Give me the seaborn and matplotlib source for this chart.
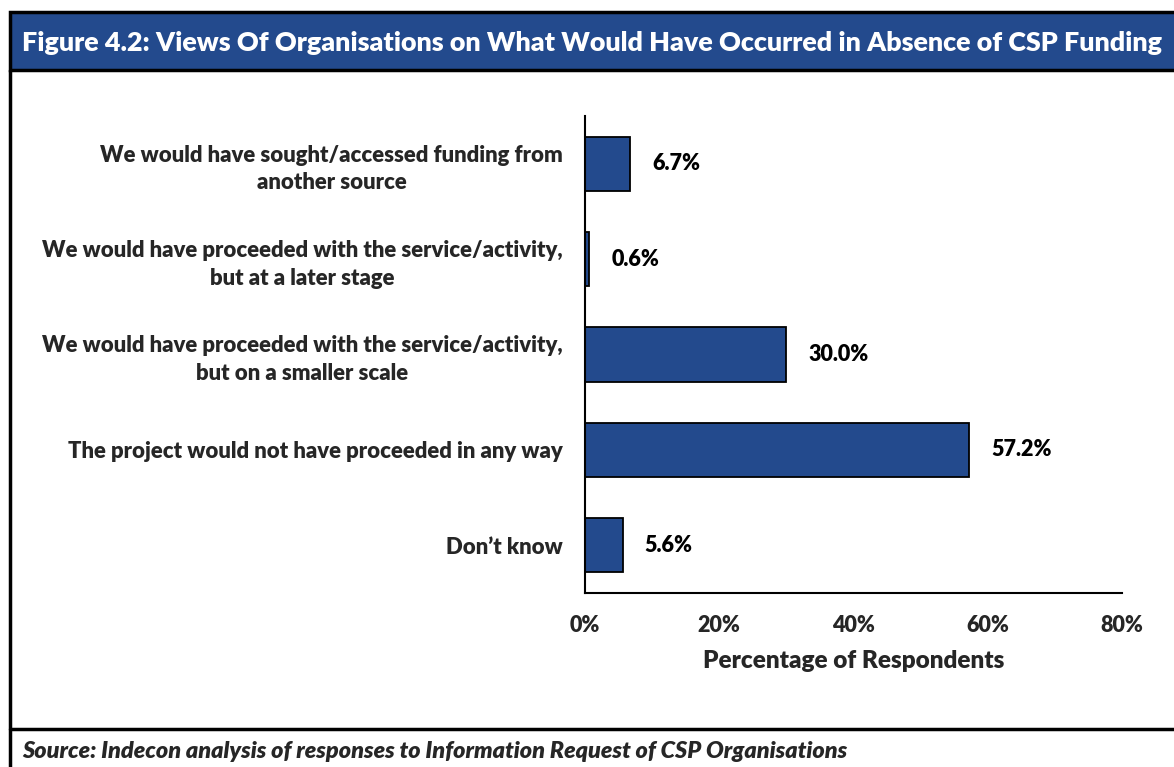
import matplotlib
matplotlib.use("Agg")
import matplotlib.pyplot as plt
from matplotlib.patches import Rectangle
from matplotlib.lines import Line2D
import seaborn as sns
import pandas as pd
import numpy as np

# Survey responses
categories = [
    "We would have sought/accessed funding from\nanother source",
    "We would have proceeded with the service/activity,\nbut at a later stage",
    "We would have proceeded with the service/activity,\nbut on a smaller scale",
    "The project would not have proceeded in any way",
    "Don\u2019t know",
]
percentages = [6.7, 0.6, 30.0, 57.2, 5.6]
x_ticks = [0, 20, 40, 60, 80]
x_tick_labels = ["0%", "20%", "40%", "60%", "80%"]

title = "Figure 4.2: Views Of Organisations on What Would Have Occurred in Absence of CSP Funding"
source = "Source: Indecon analysis of responses to Information Request of CSP Organisations"
x_label = "Percentage of Respondents"

BLUE = "#234A8D"
FONT = ["Lato", "DejaVu Sans"]
WEIGHT = "heavy"

sns.set_theme(style="white")
plt.rcParams["font.family"] = FONT

W, H = 1174, 767
fig = plt.figure(figsize=(W / 100, H / 100), dpi=100)
fig.patch.set_facecolor("white")

def fx(px):
    return px / W

def fy(py):
    return 1 - py / H

ax = fig.add_axes([fx(585), fy(593), fx(1122) - fx(585), fy(116) - fy(593)])

df = pd.DataFrame({"category": categories, "pct": percentages})
sns.barplot(data=df, y="category", x="pct", orient="h", color=BLUE,
            saturation=1, width=0.57, edgecolor="black", linewidth=1.3, ax=ax)

ax.set_xlim(0, 80)
n = len(categories)
ax.set_ylim(n - 0.5, -0.5)

# x axis
ax.set_xticks(x_ticks)
ax.set_xticklabels(x_tick_labels, fontsize=15.5, fontweight=WEIGHT)
ax.tick_params(axis="x", direction="out", length=7, width=1.5, color="black", pad=9)
ax.set_xlabel(x_label, fontsize=17.5, fontweight=WEIGHT, labelpad=10)

# y axis: ticks on category boundaries, labels at centres
ax.set_yticks(np.arange(-0.5, n, 1.0))
ax.set_yticklabels([""] * (n + 1))
ax.tick_params(axis="y", which="major", direction="out", length=7, width=1.5, color="black")
ax.set_yticks(np.arange(n), minor=True)
ax.set_yticklabels(categories, minor=True, fontsize=15.9, fontweight=WEIGHT,
                   multialignment="center", linespacing=1.4)
ax.tick_params(axis="y", which="minor", length=0, pad=16)
ax.set_ylabel("")

for side in ["top", "right"]:
    ax.spines[side].set_visible(False)
for side in ["left", "bottom"]:
    ax.spines[side].set_color("black")
    ax.spines[side].set_linewidth(1.5)
ax.grid(False)

# value labels
for container in ax.containers:
    texts = ax.bar_label(container, labels=[f"{v:.1f}%" for v in percentages],
                         padding=16, fontsize=15.5, fontweight=WEIGHT, color="black")
    for t in texts:
        t.set_va("center")

# title band and outer frame
fig.add_artist(Rectangle((fx(10), fy(70)), fx(W + 5) - fx(10), fy(12) - fy(70),
                         transform=fig.transFigure, facecolor=BLUE,
                         edgecolor="black", linewidth=2.5, zorder=5))
fig.text(fx(592), fy(43), title, color="white", fontsize=19.4, fontweight=WEIGHT,
         ha="center", va="center", zorder=6)
fig.add_artist(Line2D([fx(10), fx(10)], [fy(70), 0], transform=fig.transFigure,
                      color="black", linewidth=2.5))
fig.add_artist(Line2D([fx(10), 1], [fy(729), fy(729)], transform=fig.transFigure,
                      color="black", linewidth=2.5))
fig.text(fx(22), fy(752), source, fontsize=16.8, fontweight=WEIGHT, style="italic",
         ha="left", va="center")

fig.savefig("out.png", dpi=100)
